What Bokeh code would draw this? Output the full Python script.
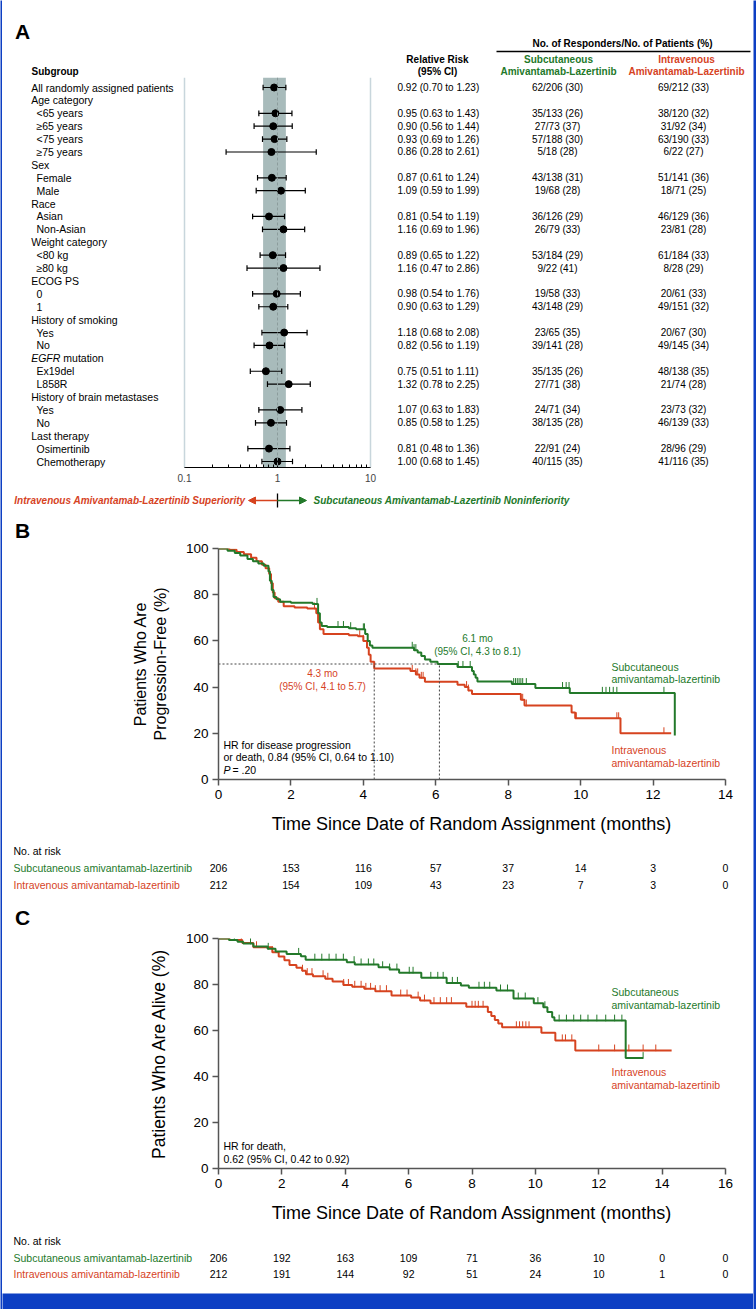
import numpy as np
from bokeh.plotting import figure
from bokeh.layouts import column, row
from bokeh.models import (Range1d, FixedTicker, Span, BoxAnnotation, Arrow, NormalHead,
                          ColumnDataSource, CustomJSTickFormatter)
from bokeh.core.properties import value
from bokeh.embed import file_html
from bokeh.resources import INLINE

# ---------------- data ----------------
subgroups = ["All randomly assigned patients", "Age category", "<65 years", "\u226565 years", "<75 years",
             "\u226575 years", "Sex", "Female", "Male", "Race", "Asian", "Non-Asian", "Weight category",
             "<80 kg", "\u226580 kg", "ECOG PS", "0", "1", "History of smoking", "Yes", "No",
             "EGFR mutation", "Ex19del", "L858R", "History of brain metastases", "Yes", "No",
             "Last therapy", "Osimertinib", "Chemotherapy"]
row_level = [0, 0, 1, 1, 1, 1, 0, 1, 1, 0, 1, 1, 0, 1, 1, 0, 1, 1, 0, 1, 1, 0, 1, 1, 0, 1, 1, 0, 1, 1]
rr = [0.92, None, 0.95, 0.90, 0.93, 0.86, None, 0.87, 1.09, None, 0.81, 1.16, None, 0.89, 1.16, None,
      0.98, 0.90, None, 1.18, 0.82, None, 0.75, 1.32, None, 1.07, 0.85, None, 0.81, 1.00]
rr_lo = [0.70, None, 0.63, 0.56, 0.69, 0.28, None, 0.61, 0.59, None, 0.54, 0.69, None, 0.65, 0.47, None,
         0.54, 0.63, None, 0.68, 0.56, None, 0.51, 0.78, None, 0.63, 0.58, None, 0.48, 0.68]
rr_hi = [1.23, None, 1.43, 1.44, 1.26, 2.61, None, 1.24, 1.99, None, 1.19, 1.96, None, 1.22, 2.86, None,
         1.76, 1.29, None, 2.08, 1.19, None, 1.11, 2.25, None, 1.83, 1.25, None, 1.36, 1.45]
sc_resp = [62, None, 35, 27, 57, 5, None, 43, 19, None, 36, 26, None, 53, 9, None, 19, 43, None, 23, 39,
           None, 35, 27, None, 24, 38, None, 22, 40]
sc_tot = [206, None, 133, 73, 188, 18, None, 138, 68, None, 126, 79, None, 184, 22, None, 58, 148, None,
          65, 141, None, 135, 71, None, 71, 135, None, 91, 115]
sc_pct = [30, None, 26, 37, 30, 28, None, 31, 28, None, 29, 33, None, 29, 41, None, 33, 29, None, 35, 28,
          None, 26, 38, None, 34, 28, None, 24, 35]
iv_resp = [69, None, 38, 31, 63, 6, None, 51, 18, None, 46, 23, None, 61, 8, None, 20, 49, None, 20, 49,
           None, 48, 21, None, 23, 46, None, 28, 41]
iv_tot = [212, None, 120, 92, 190, 22, None, 141, 71, None, 129, 81, None, 184, 28, None, 61, 151, None,
          67, 145, None, 138, 74, None, 73, 139, None, 96, 116]
iv_pct = [33, None, 32, 34, 33, 27, None, 36, 25, None, 36, 28, None, 33, 29, None, 33, 32, None, 30, 34,
          None, 35, 28, None, 32, 33, None, 29, 35]
rr_ticks = [0.1, 1, 10]
rr_minor = [0.2, 0.3, 0.4, 0.5, 0.6, 0.7, 0.8, 0.9, 2, 3, 4, 5, 6, 7, 8, 9]

pfs_sc_t = [0, 0.25, 0.45, 0.6, 0.8, 0.95, 1.1, 1.25, 1.38, 1.42, 1.47, 1.52, 1.6, 1.7, 2.0, 2.6, 2.75,
            2.8, 2.85, 3.0, 3.6, 3.8, 4.05, 4.12, 4.18, 4.25, 5.4, 5.5, 5.6, 5.7, 5.85, 6.05, 6.6, 7.0,
            7.05, 7.1, 7.15, 8.1, 8.75, 9.7, 12.6]
pfs_sc_s = [100, 99, 98, 97, 95.5, 94.5, 93.5, 92.5, 90, 86, 82, 79, 78, 77, 76.5, 76, 72, 68, 66.5, 66,
            65.5, 65, 63, 60, 58, 57, 56, 55, 53.5, 52, 51, 50, 48.7, 47, 45.5, 44, 42.4, 41.3, 39.6,
            37.5, 19]
pfs_iv_t = [0, 0.3, 0.5, 0.7, 0.9, 1.05, 1.2, 1.3, 1.4, 1.45, 1.5, 1.55, 1.65, 1.8, 2.1, 2.45, 2.7, 2.75,
            2.8, 2.9, 3.6, 3.85, 4.0, 4.1, 4.15, 4.2, 4.3, 5.3, 5.45, 5.55, 5.7, 6.6, 6.8, 6.9, 7.0, 8.35,
            8.45, 9.75, 9.85, 11.1, 12.5]
pfs_iv_s = [100, 99.5, 98.5, 97.5, 96, 94.5, 93, 91.5, 89, 85, 81, 78.5, 77, 75, 74.5, 74, 72, 68, 65, 63,
            62.5, 62, 60, 57, 54, 51, 48, 47, 45.5, 44, 42.3, 41, 40, 38.5, 37, 34.5, 32, 29, 26.5, 20, 20]
pfs_sc_cens = [2.72, 3.3, 3.45, 3.65, 4.0, 4.03, 5.35, 5.4, 5.45, 6.62, 6.75, 6.95, 8.15, 8.2, 8.25, 8.3,
               8.35, 8.4, 8.5, 9.5, 9.6, 9.68, 10.6, 10.7, 10.8, 10.9, 11.0, 12.3]
pfs_iv_cens = [2.65, 3.9, 4.0, 5.35, 5.45, 5.5, 5.6, 5.65, 6.85, 6.9, 8.4, 8.5, 9.88, 11.0, 11.05, 12.3]
pfs_medians = [4.3, 6.1]
pfs_risk_t = [0, 2, 4, 6, 8, 10, 12, 14]
pfs_risk_sc = [206, 153, 116, 57, 37, 14, 3, 0]
pfs_risk_iv = [212, 154, 109, 43, 23, 7, 3, 0]

os_sc_t = [0, 0.33, 0.6, 0.78, 1.1, 1.55, 1.8, 2.15, 2.6, 2.75, 4.05, 4.3, 5.05, 5.4, 5.7, 6.4, 7.2, 7.65,
           7.9, 8.77, 9.31, 9.95, 10.25, 10.38, 10.53, 10.6, 12.85, 13.4]
os_sc_s = [100, 99.3, 98.6, 97.8, 96.5, 95.5, 94.3, 93.3, 92.3, 90.8, 89.7, 88.7, 87.5, 86.5, 85.1, 82.9,
           80.7, 79.6, 78.6, 77.4, 73.9, 71.9, 70.1, 68, 65.8, 64.3, 48, 48]
os_iv_t = [0, 0.35, 0.75, 1.1, 1.7, 1.9, 2.08, 2.24, 2.46, 2.64, 2.76, 2.98, 3.37, 3.6, 3.94, 4.22, 4.6,
           4.95, 5.46, 6.08, 6.36, 6.69, 7.82, 8.5, 8.61, 8.72, 8.83, 8.95, 10.19, 10.63, 11.26, 14.3]
os_iv_s = [100, 99.4, 98, 96.2, 94, 92.2, 90.5, 88.5, 87.3, 86, 84.5, 83.6, 82.5, 81.3, 79.8, 79, 78.1,
           77.1, 75.2, 74.3, 73, 71.9, 70.3, 68, 66.3, 64.6, 63, 61.4, 59, 55.7, 51.3, 51.3]
os_sc_cens = [0.5, 1.01, 1.57, 2.53, 3.04, 3.26, 3.49, 3.71, 3.94, 4.28, 4.5, 4.73, 4.9, 5.18, 5.4, 5.63,
              6.02, 6.14, 6.7, 6.92, 7.09, 7.38, 7.54, 8.22, 8.39, 8.56, 8.9, 9.12, 9.46, 9.68, 10.08,
              10.3, 10.75, 10.98, 11.21, 11.43, 11.66, 11.94, 12.22, 12.5, 12.73, 13.4]
os_iv_cens = [0.72, 1.2, 1.7, 2.65, 2.8, 2.95, 3.3, 3.45, 3.95, 4.1, 4.3, 4.5, 4.65, 4.8, 4.95, 5.1, 5.3,
              5.75, 5.95, 6.3, 6.5, 6.8, 7.0, 7.2, 7.35, 8.0, 8.1, 8.2, 8.35, 9.4, 9.5, 9.6, 9.7, 9.8,
              10.85, 10.95, 11.15, 12.0, 12.5, 12.95, 13.4, 13.8]
os_risk_t = [0, 2, 4, 6, 8, 10, 12, 14, 16]
os_risk_sc = [206, 192, 163, 109, 71, 36, 10, 0, 0]
os_risk_iv = [212, 191, 144, 92, 51, 24, 10, 1, 0]
surv_ticks = [0, 20, 40, 60, 80, 100]

# ---------------- style / geometry ----------------
SANS = "Liberation Sans"
GREEN = "#23792a"
RED = "#d6431f"
BLUE = "#0d3fc3"
XL, XR = 2, 753          # white area between the blue side borders
W = XR - XL


def base(h, xr, yr, w=W, **kw):
    p = figure(width=w, height=h, x_range=xr, y_range=yr, output_backend="svg",
               toolbar_location=None, min_border=0, frame_align=False, **kw)
    p.outline_line_color = None
    p.grid.visible = False
    return p


def canvas(h, xr, yr, w=W):
    return base(h, xr, yr, w=w, x_axis_location=None, y_axis_location=None)


def bar(w, h):
    p = canvas(h, Range1d(0, 1), Range1d(0, 1), w=w)
    p.background_fill_color = BLUE
    p.border_fill_color = BLUE
    return p


def txt(p, x, y, s, size, color="black", style="normal", align="left"):
    xs = x if isinstance(x, (list, tuple)) else [x]
    ys = y if isinstance(y, (list, tuple)) else [y] * len(xs)
    ss = s if isinstance(s, (list, tuple)) else [s] * len(xs)
    p.text(x=xs, y=ys, text=ss, text_font=value(SANS), text_font_size=f"{size}px",
           text_font_style=style, text_color=color, text_align=align, text_baseline="middle")


# ---------------- Panel A header ----------------
H = canvas(76, Range1d(XL, XR), Range1d(77, 1))
txt(H, 14.5, 31, "A", 21, style="bold")
txt(H, 622, 43, "No. of Responders/No. of Patients (%)", 10, style="bold", align="center")
H.segment(x0=[496], y0=[51], x1=[750], y1=[51], line_color="black", line_width=1.5)
txt(H, 437, 59, "Relative Risk", 10, style="bold", align="center")
txt(H, 437, 71, "(95% CI)", 10, style="bold", align="center")
txt(H, 558, 59, "Subcutaneous", 10, GREEN, "bold", "center")
txt(H, 558, 71, "Amivantamab-Lazertinib", 10, GREEN, "bold", "center")
txt(H, 686, 59, "Intravenous", 10, RED, "bold", "center")
txt(H, 686, 71, "Amivantamab-Lazertinib", 10, RED, "bold", "center")
txt(H, 31, 71, "Subgroup", 10, style="bold")

# ---------------- Panel A forest ----------------
FX0, FX1 = 184.0, 370.0


def fx(px):
    return 10 ** (-1 + 2 * (px - FX0) / (FX1 - FX0))


ROW0, ROWH, FT, FB = 87.0, 12.897, 77.0, 467.0
A = base(413, Range1d(fx(XL), fx(XR)), Range1d((FB - ROW0) / ROWH, (FT - ROW0) / ROWH),
         x_axis_type="log", y_axis_location=None, min_border_bottom=23)
A.xaxis.bounds = (rr_ticks[0], rr_ticks[-1])
A.xaxis.ticker = FixedTicker(ticks=rr_ticks, minor_ticks=rr_minor)
A.xaxis.formatter = CustomJSTickFormatter(code="return tick.toString()")
A.xaxis.axis_line_color = "black"
A.xaxis.major_tick_in = 5
A.xaxis.major_tick_out = 0
A.xaxis.minor_tick_in = 3
A.xaxis.minor_tick_out = 0
A.xaxis.major_label_text_font = SANS
A.xaxis.major_label_text_font_size = "10px"
A.xaxis.major_label_standoff = 6

A.add_layout(BoxAnnotation(left=rr_lo[0], right=rr_hi[0], fill_color="#a8bbbb", fill_alpha=1,
                           line_color=None, level="underlay"))
for loc in (rr_ticks[0], rr_ticks[-1]):
    A.add_layout(Span(location=loc, dimension="height", line_color="#c8d6dc", line_width=1.5))
A.add_layout(Span(location=1, dimension="height", line_color="#8c9c9c", line_width=1, line_dash="3 2"))

idx = [i for i, v in enumerate(rr) if v is not None]
fsrc = ColumnDataSource(dict(
    y=idx, rr=[rr[i] for i in idx], lo=[rr_lo[i] for i in idx], hi=[rr_hi[i] for i in idx],
    yt=[i - 0.22 for i in idx], yb=[i + 0.22 for i in idx]))
A.segment(x0="lo", x1="hi", y0="y", y1="y", source=fsrc, line_color="black", line_width=1.2)
A.segment(x0="lo", x1="lo", y0="yt", y1="yb", source=fsrc, line_color="black", line_width=1.2)
A.segment(x0="hi", x1="hi", y0="yt", y1="yb", source=fsrc, line_color="black", line_width=1.2)
A.scatter(x="rr", y="y", source=fsrc, size=7, color="black")

plain = [i for i, s in enumerate(subgroups) if not s.startswith("EGFR")]
txt(A, [fx(30.7 + 5.3 * row_level[i]) for i in plain], [i for i in plain], [subgroups[i] for i in plain], 10.5)
eg = subgroups.index("EGFR mutation")
txt(A, fx(30.7), eg, "EGFR", 10.5, style="italic")
txt(A, fx(62.8), eg, "mutation", 10.5)
txt(A, [fx(397)] * len(idx), idx, [f"{rr[i]:.2f} ({rr_lo[i]:.2f} to {rr_hi[i]:.2f})" for i in idx], 10)
txt(A, [fx(557)] * len(idx), idx, [f"{sc_resp[i]}/{sc_tot[i]} ({sc_pct[i]})" for i in idx], 10, align="center")
txt(A, [fx(683)] * len(idx), idx, [f"{iv_resp[i]}/{iv_tot[i]} ({iv_pct[i]})" for i in idx], 10, align="center")

# ---------------- arrows + B label ----------------
AR = canvas(50, Range1d(XL, XR), Range1d(540, 490))
txt(AR, 245, 500, "Intravenous Amivantamab-Lazertinib Superiority", 10, RED, "bold italic", "right")
txt(AR, 313, 500, "Subcutaneous Amivantamab-Lazertinib Noninferiority", 10, GREEN, "bold italic")
AR.add_layout(Arrow(end=NormalHead(size=7, fill_color=RED, line_color=RED), x_start=277, y_start=500,
                    x_end=248, y_end=500, line_color=RED, line_width=1.5))
AR.add_layout(Arrow(end=NormalHead(size=7, fill_color=GREEN, line_color=GREEN), x_start=277, y_start=500,
                    x_end=306, y_end=500, line_color=GREEN, line_width=1.5))
AR.segment(x0=[277], x1=[277], y0=[493], y1=[507], line_color="black", line_width=1.3)
txt(AR, 14.5, 529.5, "B", 21, style="bold")


# ---------------- KM helpers ----------------
FR_L, FR_R = 218.0, 725.0


def km_fig(xmax, ticks, ylabel, ylsize, h, top, bottom):
    p = base(h, Range1d(0, xmax), Range1d(0, 100), min_border_left=int(FR_L - XL),
             min_border_right=int(XR - FR_R), min_border_top=top, min_border_bottom=bottom)
    p.xaxis.ticker = FixedTicker(ticks=ticks)
    p.yaxis.ticker = FixedTicker(ticks=surv_ticks)
    for ax in (p.xaxis[0], p.yaxis[0]):
        ax.axis_line_color = "#555555"
        ax.axis_line_width = 1.5
        ax.major_tick_line_color = "#555555"
        ax.major_tick_line_width = 1.5
        ax.major_tick_out = 6
        ax.major_tick_in = 0
        ax.minor_tick_line_color = None
        ax.major_label_text_font = SANS
        ax.major_label_text_font_size = "13.5px"
        ax.major_label_text_color = "black"
        ax.major_label_standoff = 4
        ax.axis_label_text_font = SANS
        ax.axis_label_text_font_style = "normal"
        ax.axis_label_text_color = "black"
    p.xaxis.axis_label = "Time Since Date of Random Assignment (months)"
    p.xaxis.axis_label_text_font_size = "18px"
    p.xaxis.axis_label_standoff = 12
    p.yaxis.axis_label = ylabel
    p.yaxis.axis_label_text_font_size = ylsize
    p.yaxis.axis_label_standoff = 14
    return p


def draw_curve(p, t, s, cens, color, tick_len):
    p.step(x=t, y=s, mode="after", line_color=color, line_width=2)
    ta, sa = np.array(t), np.array(s)
    cy = [float(sa[np.searchsorted(ta, c, side="right") - 1]) for c in cens]
    p.segment(x0=cens, x1=cens, y0=[v - 0.3 for v in cy], y1=[v + tick_len for v in cy],
              line_color=color, line_width=1)


# ---------------- Panel B ----------------
BY0, BY1 = 779.0, 548.0
bm = lambda px: (px - FR_L) * pfs_risk_t[-1] / (FR_R - FR_L)
bs = lambda py: (BY0 - py) * 100 / (BY0 - BY1)
B = km_fig(pfs_risk_t[-1], pfs_risk_t, "Patients Who Are\nProgression-Free (%)", "16px", 302, 8, 63)
draw_curve(B, pfs_iv_t, pfs_iv_s, pfs_iv_cens, RED, 2.6)
draw_curve(B, pfs_sc_t, pfs_sc_s, pfs_sc_cens, GREEN, 2.6)
B.segment(x0=[0], x1=[max(pfs_medians)], y0=[50], y1=[50], line_color="#444444", line_width=1, line_dash="2 2")
B.segment(x0=pfs_medians, x1=pfs_medians, y0=[0, 0], y1=[50, 50], line_color="#444444", line_width=1,
          line_dash="2 2")
txt(B, bm(477), bs(638), "6.1 mo", 10, GREEN, align="center")
txt(B, bm(477), bs(650.5), "(95% CI, 4.3 to 8.1)", 10, GREEN, align="center")
txt(B, bm(322), bs(673), "4.3 mo", 10, RED, align="center")
txt(B, bm(322), bs(686), "(95% CI, 4.1 to 5.7)", 10, RED, align="center")
txt(B, bm(611), bs(666), "Subcutaneous", 10.5, GREEN)
txt(B, bm(611), bs(678.5), "amivantamab-lazertinib", 10.5, GREEN)
txt(B, bm(611), bs(749), "Intravenous", 10.5, RED)
txt(B, bm(611), bs(762), "amivantamab-lazertinib", 10.5, RED)
txt(B, bm(223), bs(744), "HR for disease progression", 10.5)
txt(B, bm(223), bs(756.5), "or death, 0.84 (95% CI, 0.64 to 1.10)", 10.5)
txt(B, bm(223), bs(769), "P", 10.5, style="italic")
txt(B, bm(232), bs(769), "= .20", 10.5)

BR = canvas(88, Range1d(bm(XL), bm(XR)), Range1d(930, 842))
txt(BR, bm(13), 850, "No. at risk", 10.5)
txt(BR, bm(13), 867.5, "Subcutaneous amivantamab-lazertinib", 10.5, GREEN)
txt(BR, bm(13), 884.5, "Intravenous amivantamab-lazertinib", 10.5, RED)
txt(BR, pfs_risk_t, 867.5, [str(v) for v in pfs_risk_sc], 10.5, align="center")
txt(BR, pfs_risk_t, 884.5, [str(v) for v in pfs_risk_iv], 10.5, align="center")
txt(BR, bm(14.5), 917, "C", 21, style="bold")

# ---------------- Panel C ----------------
CY0, CY1 = 1168.0, 938.0
cm = lambda px: (px - FR_L) * os_risk_t[-1] / (FR_R - FR_L)
cs = lambda py: (CY0 - py) * 100 / (CY0 - CY1)
C = km_fig(os_risk_t[-1], os_risk_t, "Patients Who Are Alive (%)", "17.5px", 298, 8, 60)
draw_curve(C, os_iv_t, os_iv_s, os_iv_cens, RED, 2.6)
draw_curve(C, os_sc_t, os_sc_s, os_sc_cens, GREEN, 2.6)
txt(C, cm(611), cs(991.5), "Subcutaneous", 10.5, GREEN)
txt(C, cm(611), cs(1004), "amivantamab-lazertinib", 10.5, GREEN)
txt(C, cm(611), cs(1071.5), "Intravenous", 10.5, RED)
txt(C, cm(611), cs(1084), "amivantamab-lazertinib", 10.5, RED)
txt(C, cm(223), cs(1145), "HR for death,", 10.5)
txt(C, cm(223), cs(1158), "0.62 (95% CI, 0.42 to 0.92)", 10.5)

CR = canvas(65, Range1d(cm(XL), cm(XR)), Range1d(1293, 1228))
txt(CR, cm(13), 1240, "No. at risk", 10.5)
txt(CR, cm(13), 1257, "Subcutaneous amivantamab-lazertinib", 10.5, GREEN)
txt(CR, cm(13), 1273, "Intravenous amivantamab-lazertinib", 10.5, RED)
txt(CR, os_risk_t, 1257, [str(v) for v in os_risk_sc], 10.5, align="center")
txt(CR, os_risk_t, 1273, [str(v) for v in os_risk_iv], 10.5, align="center")

TOP = bar(W, 1)
BOTTOM = bar(W, 16)
center = column(TOP, H, A, AR, B, BR, C, CR, BOTTOM, spacing=0)
layout = row(bar(XL, 1309), center, bar(756 - XR, 1309), spacing=0)
open("out.html", "w").write(file_html(layout, INLINE))
